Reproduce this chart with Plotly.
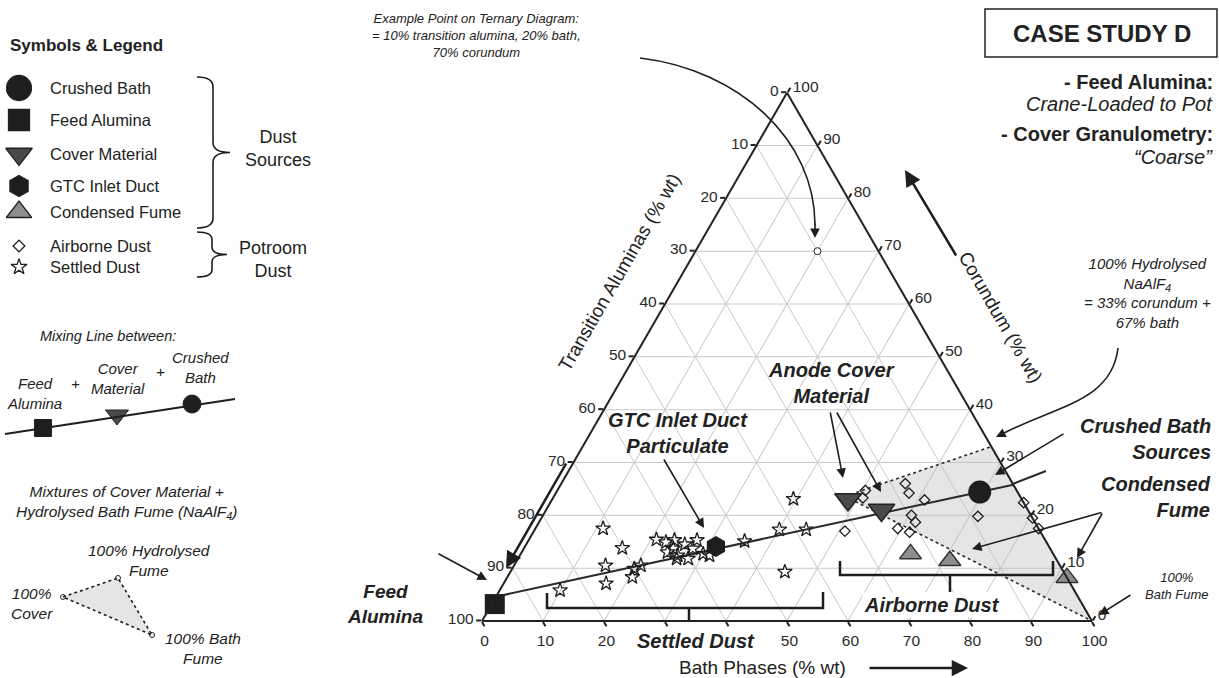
import plotly.graph_objects as go

FONT = "Liberation Sans, Arial, Helvetica, sans-serif"
DARK = "#1e1e1e"
GRID = "#c9c9c9"

# ---------------- data (% wt): corundum (apex), transition aluminas (bottom-left), bath (bottom-right)
tick_values = [0, 10, 20, 30, 40, 50, 60, 70, 80, 90, 100]
left_tick_labels = ["100", "90", "80", "70", "60", "50", "40", "30", "20", "10", "0"]     # transition aluminas
bottom_tick_labels = ["100", "90", "80", "70", "60", "50", "", "", "20", "10", "0"]       # bath phases
right_tick_labels = ["100", "90", "80", "70", "60", "50", "40", "30", "20", "10", "0"]    # corundum

crushed_bath_cor = [24.4]
crushed_bath_ta = [6.2]
crushed_bath_bath = [69.4]

feed_alumina_cor = [3.2]
feed_alumina_ta = [96.3]
feed_alumina_bath = [0.5]

cover_cor = [23.0, 21.0]
cover_ta = [28.5, 24.0]
cover_bath = [48.5, 55.0]

gtc_cor = [14.1]
gtc_ta = [54.6]
gtc_bath = [31.3]

fume_cor = [12.7, 11.4, 8.2]
fume_ta = [23.4, 17.6, 0.0]
fume_bath = [63.9, 71.0, 91.8]

airborne_cor = [24.7, 23.3, 26.0, 24.2, 22.9, 20.0, 18.7, 17.5, 16.8, 17.0, 19.8, 22.4, 19.5, 17.5]
airborne_ta = [24.8, 25.9, 17.6, 17.9, 16.0, 19.6, 19.6, 23.1, 21.5, 32.0, 8.8, 0.0, 0.0, 0.0]
airborne_bath = [50.5, 50.8, 56.4, 57.9, 61.1, 60.4, 61.7, 59.4, 61.7, 51.0, 71.4, 77.6, 80.5, 82.5]

settled_cor = [17.5, 13.8, 10.5, 7.1, 5.8, 9.9, 8.3, 10.5, 15.4, 14.9, 13.7, 11.8, 15.3, 14.5,
               13.7, 12.7, 12.4, 11.8, 12.4, 15.1, 17.3, 17.3, 23.1, 9.3, 13.0, 15.3]
settled_ta = [71.4, 70.1, 74.5, 76.1, 84.3, 70.1, 71.2, 68.7, 63.7, 62.4, 61.8, 62.2, 60.8, 59.5,
              58.6, 57.4, 61.7, 60.3, 56.5, 49.4, 42.6, 38.2, 37.4, 45.7, 63.1, 57.1]
settled_bath = [11.1, 16.1, 15.0, 16.8, 9.9, 20.0, 20.5, 20.8, 20.9, 22.7, 24.5, 26.0, 23.9, 26.0,
                27.7, 29.9, 25.9, 27.9, 31.1, 35.5, 40.1, 44.5, 39.5, 45.0, 23.9, 27.6]

example_cor = [70]
example_ta = [10]
example_bath = [20]

mixing_cor = [4.6, 25.8]
mixing_ta = [95.4, 0.0]
mixing_bath = [0.0, 74.2]

# cover material -> 100% hydrolysed NaAlF4 -> 100% bath fume
mixture_cor = [23.6, 33.0, 0.0, 23.6]
mixture_ta = [28.7, 0.0, 0.0, 28.7]
mixture_bath = [47.7, 67.0, 100.0, 47.7]

fig = go.Figure()

def tern(a, b, c, **kw):
    fig.add_trace(go.Scatterternary(a=a, b=b, c=c, showlegend=False, hoverinfo="skip",
                                    cliponaxis=False, **kw))

# shaded mixture region
tern(mixture_cor, mixture_ta, mixture_bath, mode="lines", fill="toself",
     fillcolor="rgba(190,190,190,0.40)", line=dict(color="#2a2a2a", width=1.6, dash="dot"))
# mixing line
tern(mixing_cor, mixing_ta, mixing_bath, mode="lines", line=dict(color="#2a2a2a", width=2))
# points
tern(settled_cor, settled_ta, settled_bath, mode="markers",
     marker=dict(symbol="star-open", size=11, color=DARK, line=dict(width=1.3)))
tern(airborne_cor, airborne_ta, airborne_bath, mode="markers",
     marker=dict(symbol="diamond-open", size=8, color=DARK, line=dict(width=1.3)))
tern(example_cor, example_ta, example_bath, mode="markers",
     marker=dict(symbol="circle", size=7, color="white", line=dict(color=DARK, width=1)))
tern(fume_cor, fume_ta, fume_bath, mode="markers",
     marker=dict(symbol="triangle-up", size=19, color="#8e8e8e", line=dict(color="#333", width=1.5)))
tern(cover_cor, cover_ta, cover_bath, mode="markers",
     marker=dict(symbol="triangle-down", size=23, color="#4a4a4a", line=dict(color="#222", width=1.5)))
tern(gtc_cor, gtc_ta, gtc_bath, mode="markers",
     marker=dict(symbol="hexagon", size=21, color=DARK))
tern(feed_alumina_cor, feed_alumina_ta, feed_alumina_bath, mode="markers",
     marker=dict(symbol="square", size=20, color=DARK))
tern(crushed_bath_cor, crushed_bath_ta, crushed_bath_bath, mode="markers",
     marker=dict(symbol="circle", size=23, color=DARK))

# ---------------- overlay pixel-space axes for legend panel & annotations
shapes = []
annotations = []

def line(x0, y0, x1, y1, w=2, color=DARK, dash=None):
    shapes.append(dict(type="line", xref="x", yref="y", x0=x0, y0=y0, x1=x1, y1=y1,
                       line=dict(color=color, width=w, dash=dash), layer="above"))

def path(p, w=2, color=DARK, fill=None, dash=None):
    d = dict(type="path", xref="x", yref="y", path=p, line=dict(color=color, width=w, dash=dash),
             layer="above")
    if fill:
        d["fillcolor"] = fill
    shapes.append(d)

def arrow(x0, y0, x1, y1, w=1.5, size=1.0, head=2):
    annotations.append(dict(x=x1, y=y1, ax=x0, ay=y0, xref="x", yref="y", axref="x", ayref="y",
                            text="", showarrow=True, arrowhead=head, arrowsize=size,
                            arrowwidth=w, arrowcolor=DARK, standoff=0))

def txt(x, y, t, size=13, bold=False, italic=False, xanchor="center", align="center",
        color="#222", angle=0, bg=None):
    if italic:
        t = "<i>" + t + "</i>"
    if bold:
        t = "<b>" + t + "</b>"
    d = dict(x=x, y=y, xref="x", yref="y", text=t, showarrow=False,
             xanchor=xanchor, yanchor="middle", align=align, textangle=angle,
             font=dict(family=FONT, size=size, color=color))
    if bg:
        d["bgcolor"] = bg
    annotations.append(d)

def marker(x, y, sym, sz, col, lw=1.3):
    fig.add_trace(go.Scatter(x=[x], y=[y], mode="markers", showlegend=False, hoverinfo="skip",
                             marker=dict(symbol=sym, size=sz, color=col, opacity=1,
                                         line=dict(color="#222", width=lw))))

def brace(x0, y0, y1, xs, xt):
    ym = (y0 + y1) / 2
    r = min(10, (y1 - y0) / 6)
    p = (f"M{x0},{y0} Q{xs},{y0} {xs},{y0 + r} L{xs},{ym - r} Q{xs},{ym} {xt},{ym} "
         f"Q{xs},{ym} {xs},{ym + r} L{xs},{y1 - r} Q{xs},{y1} {x0},{y1}")
    path(p, w=1.6)

# legend panel
txt(8, 45, "Symbols & Legend", size=17, bold=True, xanchor="left")
leg_items = [("Crushed Bath", "circle", 25, DARK, 88),
             ("Feed Alumina", "square", 21, DARK, 120),
             ("Cover Material", "triangle-down", 23, "#4a4a4a", 154),
             ("GTC Inlet Duct", "hexagon", 21, DARK, 186),
             ("Condensed Fume", "triangle-up", 22, "#8e8e8e", 212),
             ("Airborne Dust", "diamond-open", 9, DARK, 246),
             ("Settled Dust", "star-open", 12, DARK, 267)]
for name, sym, sz, col, yy in leg_items:
    marker(19, yy, sym, sz, col)
    txt(48, yy, name, size=16.5, xanchor="left")
brace(197, 77, 228, 213, 230)
brace(197, 232, 277, 212, 227)
txt(278, 148, "Dust<br>Sources", size=18)
txt(273, 259, "Potroom<br>Dust", size=18)

# mixing line legend
txt(108, 336, "Mixing Line between:", size=14.5, italic=True)
line(5, 434, 235, 399, w=2)
marker(43, 428, "square", 17, DARK, 1)
marker(117, 415, "triangle-down", 20, "#4a4a4a", 1)
marker(192, 404, "circle", 18, DARK, 1)
txt(34, 393, "Feed<br>Alumina", size=15, italic=True)
txt(75, 383, "+", size=15, italic=True)
txt(118, 378, "Cover<br>Material", size=15, italic=True)
txt(160, 371, "+", size=15, italic=True)
txt(200, 367, "Crushed<br>Bath", size=15, italic=True)

# mixtures legend
txt(126, 502, "Mixtures of Cover Material +<br>Hydrolysed Bath Fume (NaAlF<sub>4</sub>)",
    size=15.5, italic=True)
path("M63,597 L118,578 L152,635 Z", w=1.6, fill="rgba(190,190,190,0.40)", dash="dot")
for vx, vy in [(63, 597), (118, 578), (152, 635)]:
    marker(vx, vy, "circle", 5, "white", 1)
txt(149, 560, "100% Hydrolysed<br>Fume", size=15.5, italic=True)
txt(32, 603, "100%<br>Cover", size=15.5, italic=True)
txt(203, 648, "100% Bath<br>Fume", size=15.5, italic=True)

# top text
txt(476, 35, "Example Point on Ternary Diagram:<br>= 10% transition alumina, 20% bath,<br>70% corundum",
    size=13, italic=True)
path("M640,58 C740,70 815,140 815,225", w=1.6)
arrow(815, 222, 815, 238, w=1.6, size=1.2)

# case study box
shapes.append(dict(type="rect", xref="x", yref="y", x0=985, y0=9, x1=1217, y1=57,
                   line=dict(color="#222", width=1.5), layer="above"))
txt(1102, 33, "CASE STUDY D", size=24, bold=True)
txt(1215, 82, "- Feed Alumina:", size=20, bold=True, xanchor="right", align="right")
txt(1215, 104, "Crane-Loaded to Pot", size=20, italic=True, xanchor="right", align="right")
txt(1215, 134, "- Cover Granulometry:", size=20, bold=True, xanchor="right", align="right")
txt(1215, 157, "\u201cCoarse\u201d", size=20, italic=True, xanchor="right", align="right")

# hydrolysed note
txt(1147, 293, "100% Hydrolysed<br>NaAlF<sub>4</sub><br>= 33% corundum +<br>67% bath", size=15, italic=True)
path("M1118,348 C1112,400 1060,405 1006,432", w=1.6)
arrow(1008, 431, 996, 437, w=1.6, size=1.2)

# right labels
txt(1213, 439, "Crushed Bath<br>Sources", size=20, bold=True, italic=True, xanchor="right", align="right")
arrow(1065, 433, 995, 475, w=1.6, size=1.2)
line(1012.6, 484, 1046, 471, w=2, color="#2a2a2a")
txt(1213, 497, "Condensed<br>Fume", size=20, bold=True, italic=True, xanchor="right", align="right")
arrow(1103, 512, 972, 549, w=1.6, size=1.2)
arrow(1103, 512, 1077, 558, w=1.6, size=1.2)
txt(1177, 586, "100%<br>Bath Fume", size=13, italic=True)
arrow(1132, 594, 1099, 615, w=1.6, size=1.2)

# in-plot labels
txt(385, 604, "Feed<br>Alumina", size=19, bold=True, italic=True)
arrow(437, 553, 487, 580, w=1.6, size=1.2)
txt(678, 433, "GTC Inlet Duct<br>Particulate", size=20, bold=True, italic=True)
arrow(663, 458, 704, 528, w=1.6, size=1.2)
txt(831, 383, "Anode Cover<br>Material", size=20, bold=True, italic=True)
arrow(830, 411, 843, 478, w=1.6, size=1.2)
arrow(836, 411, 881, 492, w=1.6, size=1.2)

# brackets
path("M547,593 L547,608 L823,608 L823,592", w=2.5)
line(689, 608, 689, 622, w=2.5)
txt(696, 641, "Settled Dust", size=20, bold=True, italic=True)
path("M840,561 L840,575 L1053,575 L1053,561", w=2.5)
line(950, 575, 950, 592, w=2.5)
txt(932, 605, "Airborne Dust", size=20, bold=True, italic=True, bg="white")

# axis titles & big arrows
txt(762, 667, "Bath Phases (% wt)", size=19)
arrow(868, 668, 968, 668, w=2.5, size=1.3)
txt(619, 272, "Transition Aluminas (% wt)", size=19, angle=-60)
arrow(567, 462, 506, 568, w=2.5, size=1.3)
txt(1001, 317, "Corundum (% wt)", size=19, angle=60)
arrow(957, 257, 905, 170, w=2.5, size=1.3)

axis_common = dict(showline=True, linecolor="#222", linewidth=2, showgrid=True, gridcolor=GRID,
                   gridwidth=1, ticks="outside", ticklen=5, tickcolor="#222", tickwidth=1.5,
                   tickmode="array", tickvals=tick_values, title=dict(text=""),
                   tickfont=dict(family=FONT, size=15.5, color="#2a2a2a"), min=0)

fig.update_layout(
    width=1219, height=678,
    margin=dict(l=0, r=0, t=0, b=0),
    paper_bgcolor="white", plot_bgcolor="rgba(0,0,0,0)",
    font=dict(family=FONT, color="#222"),
    ternary=dict(
        sum=100,
        domain=dict(x=[0.3954, 0.8958], y=[0.0737, 0.8737]),
        bgcolor="white",
        aaxis=dict(axis_common, ticktext=left_tick_labels),
        baxis=dict(axis_common, ticktext=bottom_tick_labels),
        caxis=dict(axis_common, ticktext=right_tick_labels),
    ),
    xaxis=dict(range=[0, 1219], visible=False, fixedrange=True, domain=[0, 1]),
    yaxis=dict(range=[678, 0], visible=False, fixedrange=True, domain=[0, 1]),
    shapes=shapes,
    annotations=annotations,
    showlegend=False,
)

fig.write_html("out.html", config={"displayModeBar": False},
               post_script="document.body.style.margin='0px';")
